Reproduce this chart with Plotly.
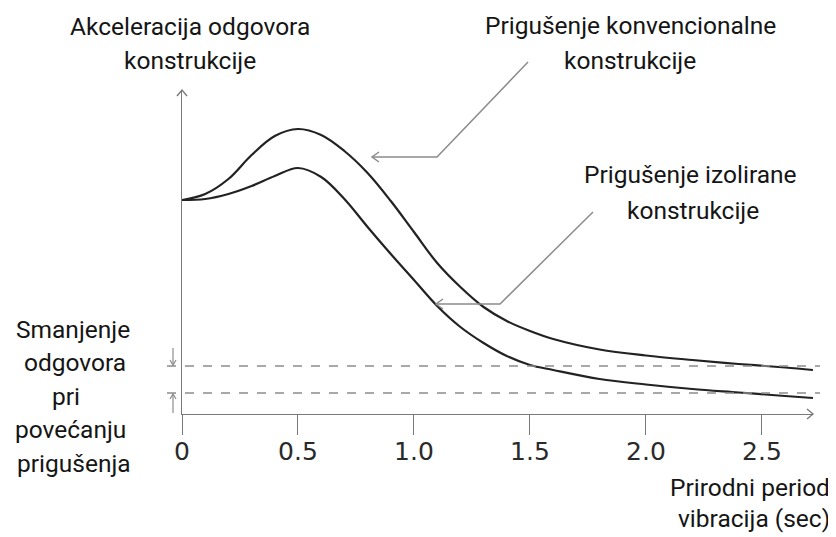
import plotly.graph_objects as go

# ---------------- data ----------------
period = [0, 0.1, 0.2, 0.3, 0.4, 0.5, 0.6, 0.7, 0.8, 0.9, 1.0, 1.1, 1.2,
          1.3, 1.4, 1.5, 1.6, 1.8, 2.0, 2.2, 2.4, 2.6, 2.72]
conventional = [2.14, 2.20, 2.35, 2.59, 2.78, 2.85, 2.79, 2.63, 2.41, 2.13,
                1.82, 1.51, 1.27, 1.07, 0.93, 0.83, 0.75, 0.645, 0.585, 0.54,
                0.50, 0.465, 0.44]
isolated = [2.14, 2.15, 2.20, 2.28, 2.38, 2.46, 2.37, 2.15, 1.87, 1.60,
            1.34, 1.08, 0.87, 0.71, 0.58, 0.49, 0.44, 0.35, 0.295, 0.25,
            0.215, 0.18, 0.16]
levels = [0.48, 0.21]
tick_vals = [0, 0.5, 1.0, 1.5, 2.0, 2.5]
tick_text = ["0", "0.5", "1.0", "1.5", "2.0", "2.5"]

X_MAX = 2.72
Y_MAX = 3.24

# ---------------- layout geometry (window pixels) ----------------
OFF = 8                      # page body margin
W, H = 836 - OFF, 537 - OFF
L, R, T, B = 182, 813, 90, 414   # plot area in window pixels

def px(x):
    return (x - L) / (R - L)

def py(y):
    return (B - y) / (B - T)

def path(points):
    return "M " + " L ".join(f"{px(a):.5f},{py(b):.5f}" for a, b in points)

CURVE = "#222222"
GREY = "#8c8c8c"
AXIS = "#7a7a7a"
TEXT = "#151515"
FONT = "Roboto"

fig = go.Figure()
fig.add_trace(go.Scatter(x=period, y=conventional, mode="lines",
                         line=dict(color=CURVE, width=2.2, shape="spline", smoothing=1.0),
                         hoverinfo="skip", name="Prigušenje konvencionalne konstrukcije"))
fig.add_trace(go.Scatter(x=period, y=isolated, mode="lines",
                         line=dict(color=CURVE, width=2.2, shape="spline", smoothing=1.0),
                         hoverinfo="skip", name="Prigušenje izolirane konstrukcije"))

shapes = []
for lv in levels:
    shapes.append(dict(type="line", xref="paper", yref="paper",
                       x0=px(167), x1=px(820), y0=lv / Y_MAX, y1=lv / Y_MAX,
                       line=dict(color=GREY, width=1.3, dash="dash")))

# axis arrowheads
shapes.append(dict(type="path", xref="paper", yref="paper",
                   path=path([(177, 96), (182, 90), (187, 96)]),
                   line=dict(color=AXIS, width=1.4)))
shapes.append(dict(type="path", xref="paper", yref="paper",
                   path=path([(807, 409), (813, 414), (807, 419)]),
                   line=dict(color=AXIS, width=1.4)))

# leader: conventional
shapes.append(dict(type="path", xref="paper", yref="paper",
                   path=path([(528, 62), (437, 157), (372, 157)]),
                   line=dict(color=GREY, width=1.5)))
shapes.append(dict(type="path", xref="paper", yref="paper",
                   path=path([(379, 152), (372, 157), (379, 162)]),
                   line=dict(color=GREY, width=1.5)))
# leader: isolated
shapes.append(dict(type="path", xref="paper", yref="paper",
                   path=path([(593, 212), (500, 304), (436, 304)]),
                   line=dict(color=GREY, width=1.5)))
shapes.append(dict(type="path", xref="paper", yref="paper",
                   path=path([(443, 299), (436, 304), (443, 309)]),
                   line=dict(color=GREY, width=1.5)))

# small arrows for the reduction
shapes.append(dict(type="path", xref="paper", yref="paper",
                   path=path([(173, 348), (173, 365)]),
                   line=dict(color=GREY, width=1.2)))
shapes.append(dict(type="path", xref="paper", yref="paper",
                   path=path([(170, 360), (173, 365), (176, 360)]),
                   line=dict(color=GREY, width=1.2)))
shapes.append(dict(type="path", xref="paper", yref="paper",
                   path=path([(173, 413), (173, 394)]),
                   line=dict(color=GREY, width=1.2)))
shapes.append(dict(type="path", xref="paper", yref="paper",
                   path=path([(170, 399), (173, 394), (176, 399)]),
                   line=dict(color=GREY, width=1.2)))

annotations = []

def label(text, x, y, anchor="center", size=24.5):
    annotations.append(dict(text=text, xref="paper", yref="paper",
                            x=px(x), y=py(y), xanchor=anchor, yanchor="middle",
                            showarrow=False,
                            font=dict(family=FONT, size=size, color=TEXT)))

label("Akceleracija odgovora", 190, 26)
label("konstrukcije", 190, 60)
label("Prigušenje konvencionalne", 630, 25)
label("konstrukcije", 630, 60)
label("Prigušenje izolirane", 690, 174)
label("konstrukcije", 693, 210)
label("Smanjenje", 73, 329)
label("odgovora", 75, 362)
label("pri", 66, 396)
label("povećanju", 70, 429)
label("prigušenja", 74, 463)
label("Prirodni period", 832, 488, anchor="right")
label("vibracija (sec)", 832, 518, anchor="right")

fig.update_layout(
    width=W, height=H,
    margin=dict(l=L - OFF, r=(836 - R), t=T - OFF, b=(537 - B), pad=0),
    paper_bgcolor="white", plot_bgcolor="white",
    showlegend=False,
    shapes=shapes, annotations=annotations,
    xaxis=dict(range=[0, X_MAX], fixedrange=True, showgrid=False, zeroline=False,
               showline=True, linecolor=AXIS, linewidth=1.4,
               ticks="outside", ticklen=20, tickwidth=1.4, tickcolor=AXIS,
               tickvals=tick_vals, ticktext=tick_text, ticklabelstandoff=-5,
               tickfont=dict(family="DejaVu Sans", size=25, color="#2a2a2a")),
    yaxis=dict(range=[0, Y_MAX], fixedrange=True, showgrid=False, zeroline=False,
               showline=True, linecolor=AXIS, linewidth=1.4,
               showticklabels=False, ticks=""),
)

fig.write_html("out.html")
